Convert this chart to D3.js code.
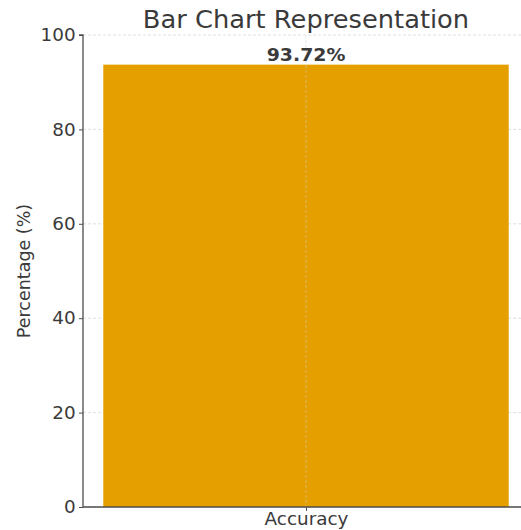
<!DOCTYPE html>
<html>
<head>
<meta charset="utf-8">
<script src="https://cdn.jsdelivr.net/npm/d3@7"></script>
<style>
  html, body { margin: 0; padding: 0; background: #fff; }
  svg { display: block; font-family: "DejaVu Sans", sans-serif; }
</style>
</head>
<body>
<svg id="chart" width="521" height="530"></svg>
<script>
const categories = ["Accuracy"];
const values = [93.72];
const yTicks = [0, 20, 40, 60, 80, 100];

const svg = d3.select("#chart");
const margin = { left: 83, top: 35, bottom: 23 };
const plotRight = 529; // axes extend slightly past the page edge
const height = 530;
const stretch = 1.05;  // slightly wide lettering

const barWidthFrac = 0.8;
const pad = 0.05 * barWidthFrac;
const x = d3.scaleLinear()
  .domain([-barWidthFrac / 2 - pad, (categories.length - 1) + barWidthFrac / 2 + pad])
  .range([margin.left, plotRight]);
const y = d3.scaleLinear().domain([0, 100]).range([height - margin.bottom, margin.top]);

const textColor = "#3a3a3a";
const spineColor = "#4d4d4d";

// horizontal grid
svg.append("g").selectAll("line").data(yTicks).join("line")
  .attr("x1", margin.left).attr("x2", plotRight)
  .attr("y1", d => y(d)).attr("y2", d => y(d))
  .attr("stroke", "#d8d8d8").attr("stroke-width", 0.8)
  .attr("stroke-dasharray", "3,2");

// bars
svg.append("g").selectAll("rect").data(values).join("rect")
  .attr("x", (d, i) => x(i - barWidthFrac / 2))
  .attr("width", (d, i) => x(i + barWidthFrac / 2) - x(i - barWidthFrac / 2))
  .attr("y", d => y(d))
  .attr("height", d => y(0) - y(d))
  .attr("fill", "#e5a000");

// vertical grid drawn over the bar
svg.append("g").selectAll("line").data(categories).join("line")
  .attr("x1", (d, i) => x(i)).attr("x2", (d, i) => x(i))
  .attr("y1", margin.top).attr("y2", y(0))
  .attr("stroke", "#cfcfcf").attr("stroke-opacity", 0.6).attr("stroke-width", 0.8)
  .attr("stroke-dasharray", "3,2");

// y axis
const yAxis = d3.axisLeft(y).tickValues(yTicks).tickSize(4).tickPadding(3);
const gy = svg.append("g").attr("transform", `translate(${margin.left},0)`).call(yAxis);
gy.select(".domain").attr("stroke", spineColor).attr("stroke-width", 1.3).attr("d", `M-4,${y(100)}H0V${y(0)}`);
gy.selectAll(".tick line").attr("stroke", spineColor);
gy.selectAll(".tick text").attr("fill", textColor).style("font-size", "17.5px")
  .style("font-family", "'DejaVu Sans', sans-serif")
  .attr("transform", `scale(${stretch},1)`);

// x axis
const xAxis = d3.axisBottom(x).tickValues(categories.map((d, i) => i))
  .tickFormat(i => categories[i]).tickSize(4).tickPadding(2);
const gx = svg.append("g").attr("transform", `translate(0,${y(0)})`).call(xAxis);
gx.select(".domain").attr("stroke", spineColor).attr("stroke-width", 1.3).attr("d", `M${margin.left},0H${plotRight}`);
gx.selectAll(".tick line").attr("stroke", spineColor);
gx.selectAll(".tick text").attr("fill", textColor).style("font-size", "17.5px")
  .style("font-family", "'DejaVu Sans', sans-serif")
  .attr("transform", `scale(${stretch},1)`);

// value labels
svg.append("g").selectAll("text").data(values).join("text")
  .attr("transform", (d, i) => `translate(${x(i)},${y(d) - 4}) scale(${stretch},1)`)
  .attr("text-anchor", "middle")
  .attr("fill", textColor)
  .style("font-size", "18px").style("font-weight", "bold")
  .text(d => d.toFixed(2) + "%");

// title
svg.append("text")
  .attr("transform", `translate(${x(0)},28) scale(${stretch},1)`)
  .attr("text-anchor", "middle")
  .attr("fill", textColor)
  .style("font-size", "24.5px")
  .text("Bar Chart Representation");

// y label
svg.append("text")
  .attr("transform", `translate(30,${(y(0) + y(100)) / 2}) rotate(-90)`)
  .attr("text-anchor", "middle")
  .attr("fill", textColor)
  .style("font-size", "17.5px")
  .text("Percentage (%)");
</script>
</body>
</html>
